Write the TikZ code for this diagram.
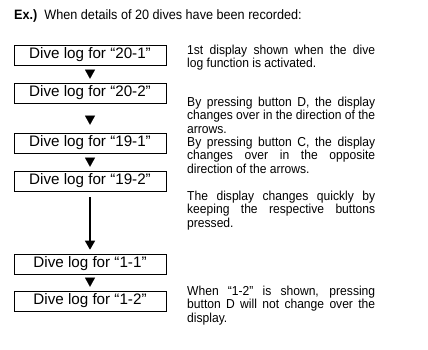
\documentclass[tikz,border=0pt]{standalone}
\usepackage{fontspec}
\setmainfont{Liberation Sans}
\newfontfamily\narrowsans[FakeStretch=0.93]{Liberation Sans}
\usetikzlibrary{arrows.meta}
\begin{document}
\begin{tikzpicture}[x=1pt, y=-1pt,
    logbox/.style={rectangle, draw, line width=0.6pt, minimum width=152pt, minimum height=20pt, inner sep=0pt, font=\fontsize{15.2}{17}\selectfont},
    note/.style={anchor=north west, inner sep=0pt, text width=188pt, align=justify, font=\narrowsans\fontsize{13}{13.3}\selectfont},
    stepdown/.style={white, -{Triangle[width=10pt,length=9pt,color=black]}, line width=0.2pt, shorten <=4pt, shorten >=4pt},
    longdown/.style={-{Triangle[width=10pt,length=9pt]}, line width=1.4pt, shorten <=6pt, shorten >=4pt}
]
    \useasboundingbox (0,0) rectangle (428,349);

    % Heading
    \node[anchor=base west, inner sep=0pt, font=\narrowsans\fontsize{13.6}{15}\selectfont] (head) at (14,19) {\textbf{Ex.)}\ \ When details of 20 dives have been recorded:};

    % Dive log displays (left column)
    \node[logbox] (log201) at (90,55) {Dive log for “20-1”};
    \node[logbox] (log202) at (90,93) {Dive log for “20-2”};
    \node[logbox] (log191) at (90,143) {Dive log for “19-1”};
    \node[logbox] (log192) at (90,181) {Dive log for “19-2”};
    \node[logbox] (log11) at (90,264) {Dive log for “1-1”};
    \node[logbox] (log12) at (90,301) {Dive log for “1-2”};

    % Arrows between displays
    \draw[stepdown] (log201) -- (log202);
    \draw[stepdown, shorten >=8pt] (log202) -- (log191);
    \draw[stepdown] (log191) -- (log192);
    \draw[longdown] (log192) -- (log11);
    \draw[stepdown] (log11) -- (log12);

    % Explanations (right column)
    \node[note] (first) at (187,45) {1st display shown when the dive\linebreak log function is activated.};
    \node[note] (buttons) at (187,97) {By pressing button D, the display\linebreak changes over in the direction of the\linebreak arrows.\\By pressing button C, the display\linebreak changes over in the opposite\linebreak direction of the arrows.};
    \node[note] (quick) at (187,191) {The display changes quickly by\linebreak keeping the respective buttons\linebreak pressed.};
    \node[note] (last) at (187,286) {When “1-2” is shown, pressing\linebreak button D will not change over the\linebreak display.};
\end{tikzpicture}
\end{document}
